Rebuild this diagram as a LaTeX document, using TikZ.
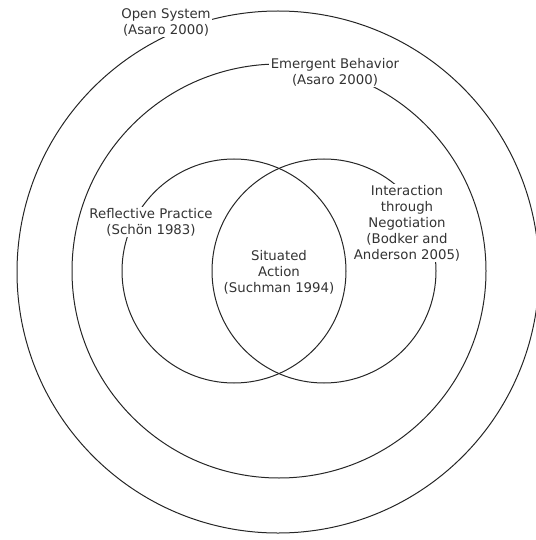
\documentclass[tikz,border=0pt]{standalone}
\usepackage{fontspec}
\setmainfont{DejaVu Sans}

\begin{document}
\begin{tikzpicture}[x=1pt, y=-1pt,
    ring/.style={draw=black!85, line width=1pt},
    lbl/.style={fill=white, align=center, inner sep=1.5pt, text=black!80, font=\fontsize{13.3}{16}\selectfont}]
    \useasboundingbox (0,0) rectangle (535,540);

    % Rings
    \draw[ring] (278,272) circle (261pt);
    \draw[ring] (279,271) circle (207pt);

    % Venn pair
    \draw[ring] (234,271) circle (112pt);
    \draw[ring] (324,271) circle (112pt);

    % Labels
    \node[lbl] (open) at (166,22) {Open System\\(Asaro 2000)};
    \node[lbl] (emergent) at (335,72) {Emergent Behavior\\(Asaro 2000)};
    \node[lbl] (reflective) at (151,222) {Reflective Practice\\(Schön 1983)};
    \node[lbl, fill=none] (situated) at (279,272) {Situated\\Action\\(Suchman 1994)};
    \node[lbl] (interaction) at (407,223) {Interaction\\through\\Negotiation\\(Bodker and\\Anderson 2005)};

\end{tikzpicture}
\end{document}
